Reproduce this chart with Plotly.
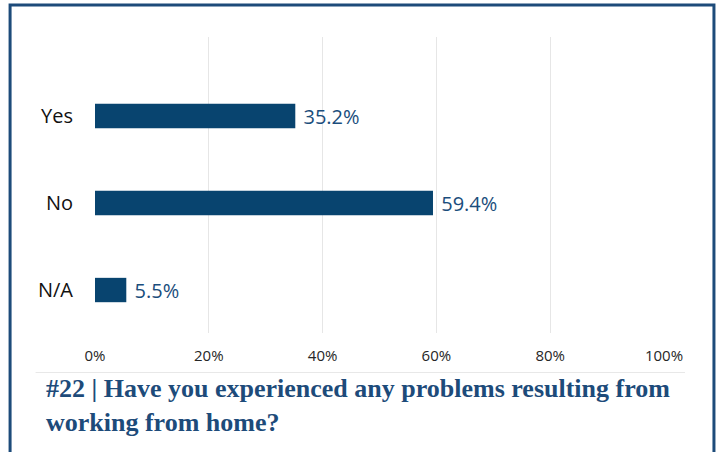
import plotly.graph_objects as go

categories = ["Yes", "No", "N/A"]
values = [35.2, 59.4, 5.5]
labels = ["35.2%", "59.4%", "5.5%"]
tick_vals = [0, 20, 40, 60, 80, 100]
tick_text = ["0%", "20%", "40%", "60%", "80%", "100%"]
title_text = "<b>#22 | Have you experienced any problems resulting from<br>working from home?</b>"

W, H = 717, 452
L, R, T, B = 94.5, 53, 37, 119
pw, ph = W - L - R, H - T - B

def px(x):
    return (x - L) / pw

def py(y):
    return (H - B - y) / ph

fig = go.Figure(go.Bar(
    y=categories[::-1], x=values[::-1], orientation="h",
    marker=dict(color="#08446f", line=dict(width=0)),
    width=0.28,
    text=labels[::-1], textposition="outside", texttemplate=" %{text}",
    constraintext="none",
    textfont=dict(family="Open Sans", size=20, color="#1a4d7c"),
    cliponaxis=False,
))

fig.update_layout(
    width=W, height=H,
    margin=dict(l=L, r=R, t=T, b=B),
    paper_bgcolor="white", plot_bgcolor="white",
    showlegend=False,
    xaxis=dict(range=[0, 100], tickvals=tick_vals, ticktext=tick_text,
               showgrid=True, gridcolor="#e6e6e6", gridwidth=1,
               zeroline=False, showline=False, ticks="",
               ticklabelstandoff=12,
               tickfont=dict(family="Open Sans", size=15, color="#262626")),
    yaxis=dict(range=[-0.494, 2.908], showgrid=False, zeroline=False,
               showline=False, ticks="", ticklabelstandoff=21,
               tickfont=dict(family="Open Sans", size=20, color="#111111")),
    shapes=[
        dict(type="rect", xref="paper", yref="paper",
             x0=px(9.5), x1=px(714), y0=py(470), y1=py(5),
             line=dict(color="#1d4b7a", width=3), fillcolor="rgba(0,0,0,0)"),
        dict(type="line", xref="paper", yref="paper",
             x0=px(35), x1=px(685), y0=py(372.5), y1=py(372.5),
             line=dict(color="#e8e8e8", width=1)),
    ],
    annotations=[
        dict(text=title_text, xref="paper", yref="paper",
             x=px(43), y=py(372), xanchor="left", yanchor="top",
             align="left", showarrow=False,
             font=dict(family="Liberation Serif", size=26, color="#1d4b7a"),
             ),
    ],
)

fig.write_html("out.html")
